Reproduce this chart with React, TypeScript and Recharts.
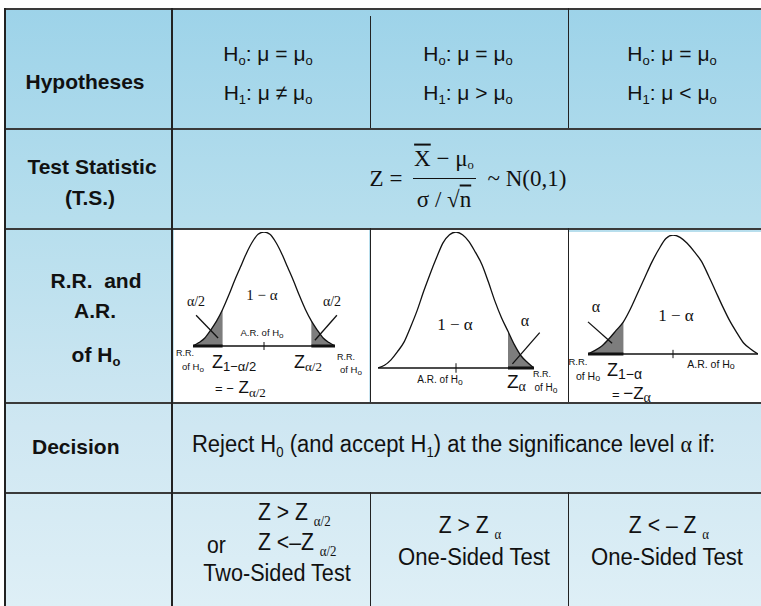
import React from "react";
import {
  ComposedChart,
  Area,
  Line,
  XAxis,
  YAxis,
  ReferenceLine,
} from "recharts";

// positions along the curve, in standard units
const zGrid = [
  -3, -2.75, -2.5, -2.25, -2, -1.75, -1.5, -1.25, -1, -0.75, -0.5, -0.25, 0,
  0.25, 0.5, 0.75, 1, 1.25, 1.5, 1.75, 2, 2.25, 2.5, 2.75, 3,
];

// curve heights (peak = 1)
const twoSidedCurve = [
  0, 0.03, 0.07, 0.14, 0.22, 0.32, 0.44, 0.57, 0.69, 0.81, 0.91, 0.98, 1,
  0.98, 0.91, 0.81, 0.69, 0.57, 0.44, 0.32, 0.22, 0.14, 0.07, 0.03, 0,
];
const upperCurve = [
  0, 0.02, 0.06, 0.12, 0.19, 0.3, 0.42, 0.56, 0.69, 0.81, 0.92, 0.98, 1,
  0.98, 0.93, 0.85, 0.76, 0.63, 0.49, 0.37, 0.27, 0.17, 0.09, 0.04, 0,
];
const lowerCurve = [
  0, 0.03, 0.07, 0.13, 0.2, 0.27, 0.38, 0.51, 0.64, 0.77, 0.88, 0.97, 1,
  0.98, 0.93, 0.86, 0.78, 0.66, 0.53, 0.4, 0.28, 0.18, 0.09, 0.04, 0,
];

// where the rejection regions start
const twoSidedLeftCut = -1.75;
const twoSidedRightCut = 2;
const upperCut = 2;
const lowerCut = -1.75;

const SANS = "'Liberation Sans', Arial, sans-serif";
const SERIF = "'Liberation Serif', 'Times New Roman', serif";
const LINE = "#3a3a3a";

const buildRows = (curve: number[], leftCut?: number, rightCut?: number) =>
  zGrid.map((z, i) => ({
    z,
    curve: curve[i],
    left: leftCut !== undefined && z <= leftCut ? curve[i] : null,
    right: rightCut !== undefined && z >= rightCut ? curve[i] : null,
  }));

type Seg = [number, number, number, number];

interface BellProps {
  x: number;
  y: number;
  width: number;
  height: number;
  margin: { top: number; right: number; bottom: number; left: number };
  curve: number[];
  leftCut?: number;
  rightCut?: number;
  leaders: Seg[];
}

const BellChart = ({ x, y, width, height, margin, curve, leftCut, rightCut, leaders }: BellProps) => {
  const rows = buildRows(curve, leftCut, rightCut);
  return (
    <div style={{ position: "absolute", left: x, top: y, width, height, background: "#fff" }}>
      <ComposedChart width={width} height={height} data={rows} margin={margin}>
        <XAxis type="number" dataKey="z" domain={[-3, 3]} hide allowDataOverflow />
        <YAxis type="number" domain={[0, 1]} hide allowDataOverflow />
        <Area
          type="monotone"
          dataKey="left"
          stroke="none"
          fill="#7d7d7d"
          fillOpacity={1}
          isAnimationActive={false}
        />
        <Area
          type="monotone"
          dataKey="right"
          stroke="none"
          fill="#7d7d7d"
          fillOpacity={1}
          isAnimationActive={false}
        />
        <Line
          type="monotone"
          dataKey="curve"
          stroke="#111"
          strokeWidth={1.3}
          dot={false}
          isAnimationActive={false}
        />
        <ReferenceLine y={0} stroke="#111" strokeWidth={1.5} />
        {leftCut !== undefined && (
          <ReferenceLine
            segment={[{ x: -3, y: 0 }, { x: leftCut, y: 0 }]}
            stroke="#111"
            strokeWidth={3}
            ifOverflow="visible"
          />
        )}
        {rightCut !== undefined && (
          <ReferenceLine
            segment={[{ x: rightCut, y: 0 }, { x: 3, y: 0 }]}
            stroke="#111"
            strokeWidth={3}
            ifOverflow="visible"
          />
        )}
        <ReferenceLine
          segment={[{ x: 0, y: -0.035 }, { x: 0, y: 0.035 }]}
          stroke="#111"
          strokeWidth={1}
          ifOverflow="visible"
        />
        {leaders.map((s, i) => (
          <ReferenceLine
            key={i}
            segment={[{ x: s[0], y: s[1] }, { x: s[2], y: s[3] }]}
            stroke="#111"
            strokeWidth={1.3}
            ifOverflow="visible"
          />
        ))}
      </ComposedChart>
    </div>
  );
};

interface TxtProps {
  x: number;
  y: number;
  size: number;
  bold?: boolean;
  serif?: boolean;
  sx?: number;
  left?: boolean;
  children: React.ReactNode;
}

const Txt = ({ x, y, size, bold, serif, sx = 1, left, children }: TxtProps) => (
  <div
    style={{
      position: "absolute",
      left: x,
      top: y,
      transform: `translate(${left ? "0" : "-50%"}, -50%) scaleX(${sx})`,
      transformOrigin: left ? "left center" : "center center",
      fontFamily: serif ? SERIF : SANS,
      fontWeight: bold ? 700 : 400,
      fontSize: size,
      lineHeight: 1,
      whiteSpace: "nowrap",
      color: "#111",
      zIndex: 2,
    }}
  >
    {children}
  </div>
);

const Sub = ({ children, k = 0.62, d = "-0.3em" }: { children: React.ReactNode; k?: number; d?: string }) => (
  <span style={{ fontSize: `${k}em`, verticalAlign: d }}>{children}</span>
);

const GreekSub = ({ children, size = 14, d = "-0.4em" }: { children: React.ReactNode; size?: number; d?: string }) => (
  <span style={{ fontSize: size, verticalAlign: d, fontFamily: SERIF }}>{children}</span>
);

const HLine = ({ y, x1 = 5, x2 = 761, w = 2 }: { y: number; x1?: number; x2?: number; w?: number }) => (
  <div style={{ position: "absolute", left: x1, top: y, width: x2 - x1, height: w, background: LINE, zIndex: 3 }} />
);

const VLine = ({ x, y1, y2, w = 1.5 }: { x: number; y1: number; y2: number; w?: number }) => (
  <div style={{ position: "absolute", left: x, top: y1, width: w, height: y2 - y1, background: "#222", zIndex: 3 }} />
);

const Hyp = ({ cx, rel }: { cx: number; rel: string }) => (
  <>
    <Txt x={cx} y={55} size={21}>
      H<Sub>o</Sub>: μ = μ<Sub>o</Sub>
    </Txt>
    <Txt x={cx} y={94} size={21}>
      H<Sub>1</Sub>: μ {rel} μ<Sub>o</Sub>
    </Txt>
  </>
);

// small "of Ho" style label used inside the curve panels
const SmallH = () => <Sub k={0.85} d="-0.2em">o</Sub>;

export default function App() {
  return (
    <div
      style={{
        position: "absolute",
        left: 0,
        top: 0,
        width: 761,
        height: 606,
        overflow: "hidden",
        background: "#fff",
      }}
    >
      <div
        style={{
          position: "absolute",
          left: 5,
          top: 8,
          width: 756,
          height: 598,
          background: "linear-gradient(180deg, #9dd3e9 0%, #b6deed 35%, #cfe7f2 70%, #deeff6 100%)",
        }}
      />

      <BellChart
        x={174}
        y={230}
        width={195}
        height={172}
        margin={{ top: 2, right: 34, bottom: 56, left: 19 }}
        curve={twoSidedCurve}
        leftCut={twoSidedLeftCut}
        rightCut={twoSidedRightCut}
        leaders={[
          [-2.87, 0.27, -1.94, 0.07],
          [3.08, 0.27, 2.15, 0.05],
        ]}
      />
      <BellChart
        x={371}
        y={230}
        width={197}
        height={172}
        margin={{ top: 2, right: 34, bottom: 34, left: 7 }}
        curve={upperCurve}
        rightCut={upperCut}
        leaders={[[3.22, 0.26, 2.17, 0.03]]}
      />
      <BellChart
        x={569}
        y={232}
        width={192}
        height={170}
        margin={{ top: 3, right: 3, bottom: 48, left: 19 }}
        curve={lowerCurve}
        leftCut={lowerCut}
        leaders={[[-3.0, 0.27, -2.15, 0.09]]}
      />

      {/* table rules */}
      <HLine y={8} />
      <HLine y={128} />
      <HLine y={228} />
      <HLine y={402} />
      <HLine y={492} />
      <VLine x={4} y1={8} y2={606} w={2} />
      <VLine x={171} y1={8} y2={606} />
      <VLine x={369.5} y1={16} y2={128} />
      <VLine x={369.5} y1={228} y2={402} />
      <VLine x={369.5} y1={492} y2={606} />
      <VLine x={567.5} y1={8} y2={128} />
      <VLine x={567.5} y1={228} y2={402} />
      <VLine x={567.5} y1={492} y2={606} />

      {/* row 1 */}
      <Txt x={85} y={81} size={21} bold>Hypotheses</Txt>
      <Hyp cx={268} rel="≠" />
      <Hyp cx={468} rel=">" />
      <Hyp cx={672} rel="<" />

      {/* row 2 */}
      <Txt x={92} y={166} size={21} bold>Test Statistic</Txt>
      <Txt x={90} y={197} size={21} bold>(T.S.)</Txt>
      <Txt x={386} y={178} size={23} serif>Z =</Txt>
      <Txt x={444} y={159} size={23} serif>
        <span style={{ textDecoration: "overline" }}>X</span> − μ<Sub k={0.55} d="-0.25em">o</Sub>
      </Txt>
      <div style={{ position: "absolute", left: 413, top: 177.5, width: 63, height: 1.3, background: "#111", zIndex: 2 }} />
      <Txt x={444} y={199} size={23} serif>
        σ / √<span style={{ textDecoration: "overline" }}>n</span>
      </Txt>
      <Txt x={527} y={178} size={23} serif>~ N(0,1)</Txt>

      {/* row 3 */}
      <Txt x={96} y={280} size={21} bold>R.R.&nbsp; and</Txt>
      <Txt x={95} y={310} size={21} bold>A.R.</Txt>
      <Txt x={96} y={356} size={21} bold>of H<Sub>o</Sub></Txt>

      {/* panel 1 labels */}
      <Txt x={262} y={295} size={15} serif>1 − α</Txt>
      <Txt x={196} y={302} size={14} serif>α/2</Txt>
      <Txt x={332} y={302} size={14} serif>α/2</Txt>
      <Txt x={262} y={334} size={9.5}>A.R. of H<SmallH /></Txt>
      <Txt x={185} y={353} size={9}>R.R.</Txt>
      <Txt x={193} y={368} size={9.5}>of H<SmallH /></Txt>
      <Txt x={212} y={363} size={18} left>
        Z<span style={{ fontSize: 13, verticalAlign: "-0.2em" }}>1−α/2</span>
      </Txt>
      <Txt x={294} y={363} size={18} left>
        Z<GreekSub size={13} d="-0.25em">α/2</GreekSub>
      </Txt>
      <Txt x={346} y={357} size={9}>R.R.</Txt>
      <Txt x={351} y={371} size={9.5}>of H<SmallH /></Txt>
      <Txt x={215} y={389} size={17} left>
        <span style={{ fontSize: 13 }}>= −</span> Z<GreekSub size={13} d="-0.3em">α/2</GreekSub>
      </Txt>

      {/* panel 2 labels */}
      <Txt x={455} y={324} size={17} serif>1 − α</Txt>
      <Txt x={525} y={321} size={16} serif>α</Txt>
      <Txt x={440} y={381} size={10}>A.R. of H<SmallH /></Txt>
      <Txt x={507} y={383} size={19} left>
        Z<GreekSub size={14} d="-0.25em">α</GreekSub>
      </Txt>
      <Txt x={542} y={374} size={9}>R.R.</Txt>
      <Txt x={546} y={389} size={10}>of H<SmallH /></Txt>

      {/* panel 3 labels */}
      <Txt x={596} y={307} size={16} serif>α</Txt>
      <Txt x={676} y={315} size={17} serif>1 − α</Txt>
      <Txt x={578} y={362} size={9.5}>R.R.</Txt>
      <Txt x={588} y={377} size={10.5}>of H<SmallH /></Txt>
      <Txt x={607} y={371} size={18} left>
        Z<span style={{ fontSize: 14, verticalAlign: "-0.15em" }}>1−α</span>
      </Txt>
      <Txt x={612} y={395} size={17} left>
        <span style={{ fontSize: 13 }}>= </span>−Z<GreekSub size={14} d="-0.2em">α</GreekSub>
      </Txt>
      <Txt x={711} y={365} size={10.5}>A.R. of H<SmallH /></Txt>

      {/* row 4 */}
      <Txt x={32} y={446} size={21} bold left>Decision</Txt>
      <Txt x={192} y={446} size={23} sx={0.955} left>
        Reject H<Sub k={0.6} d="-0.35em">0</Sub> (and accept H<Sub k={0.6} d="-0.35em">1</Sub>) at the significance level{" "}
        <span style={{ fontFamily: SERIF }}>α</span> if:
      </Txt>

      {/* row 5 */}
      <Txt x={258} y={515} size={23} sx={0.92} left>
        Z &gt; Z <GreekSub>α/2</GreekSub>
      </Txt>
      <Txt x={207} y={545} size={23} sx={0.92} left>or</Txt>
      <Txt x={258} y={545} size={23} sx={0.92} left>
        Z &lt;–Z <GreekSub>α/2</GreekSub>
      </Txt>
      <Txt x={277} y={573} size={23} sx={0.94}>Two-Sided Test</Txt>

      <Txt x={470} y={528} size={23} sx={0.92}>
        Z &gt; Z <GreekSub>α</GreekSub>
      </Txt>
      <Txt x={474} y={557} size={23} sx={0.96}>One-Sided Test</Txt>
      <Txt x={669} y={528} size={23} sx={0.92}>
        Z &lt; – Z <GreekSub>α</GreekSub>
      </Txt>
      <Txt x={667} y={557} size={23} sx={0.96}>One-Sided Test</Txt>
    </div>
  );
}
